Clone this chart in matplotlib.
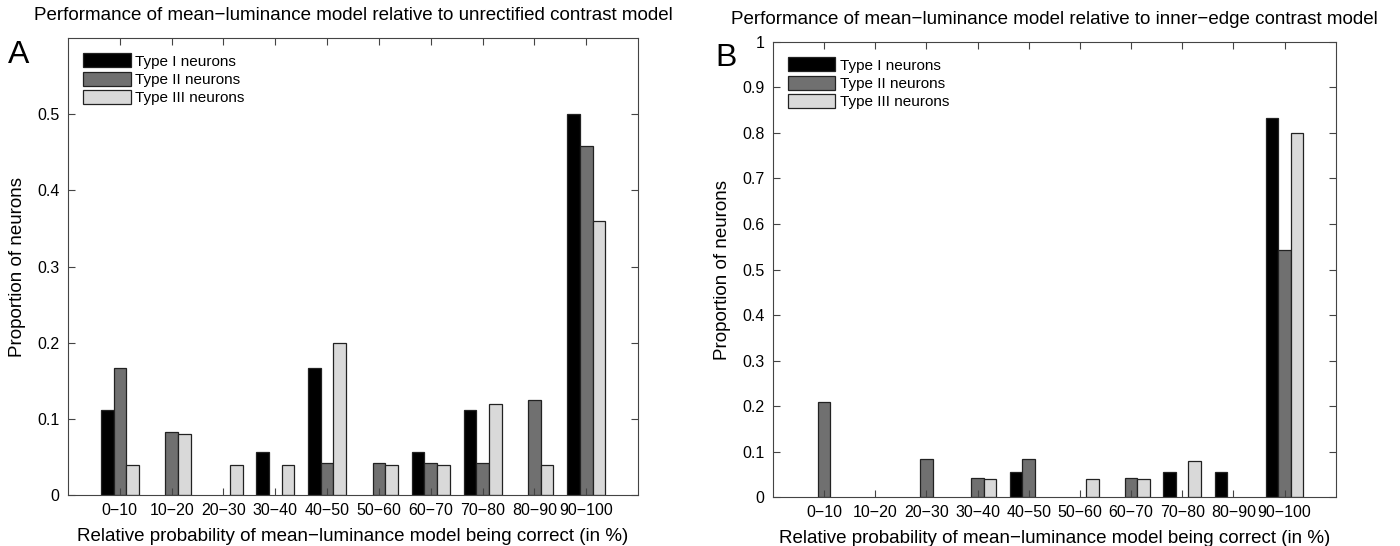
import matplotlib
matplotlib.use("Agg")
import matplotlib.pyplot as plt
import numpy as np

# bins of relative probability (in %)
bins = ["0\u221210", "10\u221220", "20\u221230", "30\u221240", "40\u221250",
        "50\u221260", "60\u221270", "70\u221280", "80\u221290", "90\u2212100"]
series_names = ["Type I neurons", "Type II neurons", "Type III neurons"]

# panel A: relative to unrectified contrast model
a_type1 = [0.111, 0, 0, 0.056, 0.167, 0, 0.056, 0.111, 0, 0.5]
a_type2 = [0.167, 0.083, 0, 0, 0.042, 0.042, 0.042, 0.042, 0.125, 0.458]
a_type3 = [0.04, 0.08, 0.04, 0.04, 0.2, 0.04, 0.04, 0.12, 0.04, 0.36]

# panel B: relative to inner-edge contrast model
b_type1 = [0, 0, 0, 0, 0.056, 0, 0, 0.056, 0.056, 0.833]
b_type2 = [0.208, 0, 0.083, 0.042, 0.083, 0, 0.042, 0, 0, 0.542]
b_type3 = [0, 0, 0, 0.04, 0, 0.04, 0.04, 0.08, 0, 0.8]

colors = ["#000000", "#707070", "#d9d9d9"]

plt.rcParams['font.family'] = ['Liberation Sans', 'DejaVu Sans']
plt.rcParams['axes.edgecolor'] = '#444444'

fig = plt.figure(figsize=(14, 5.46), dpi=100)
axA = fig.add_axes([0.0486, 0.0934, 0.4071, 0.837])
axB = fig.add_axes([0.552, 0.0897, 0.4021, 0.8334])

x = np.arange(1, len(bins) + 1)
w = 0.245


def draw_panel(ax, data, ymax, yticks, title):
    for i, vals in enumerate(data):
        # no outline for empty bins
        lw = [0.9 if v > 0 else 0 for v in vals]
        ax.bar(x + (i - 1) * w, vals, width=w, color=colors[i],
               edgecolor='#222222', linewidth=lw, label=series_names[i])
    ax.set_xlim(0, 11)
    ax.set_ylim(0, ymax)
    ax.set_xticks(x)
    ax.set_xticklabels(bins, fontsize=11.5)
    ax.set_yticks(yticks)
    ax.set_yticklabels(["%g" % t for t in yticks], fontsize=11.5)
    ax.tick_params(direction='in', top=True, right=True, length=5,
                   width=0.8, color='#444444', pad=6)
    ax.set_xlabel("Relative probability of mean\u2212luminance model being correct (in %)",
                  fontsize=13.5, labelpad=7)
    ax.set_ylabel("Proportion of neurons", fontsize=13.5, labelpad=8)
    ax.set_title(title, fontsize=13.5, pad=13,
                 family=['Liberation Sans Narrow', 'Liberation Sans', 'DejaVu Sans'])
    leg = ax.legend(loc='upper left', frameon=False, fontsize=11,
                    handlelength=3.1, handleheight=1.05, labelspacing=0.2,
                    handletextpad=0.3, borderaxespad=0.6)
    for h in leg.legend_handles:
        h.set_linewidth(0.9)
        h.set_edgecolor('#222222')


draw_panel(axA, [a_type1, a_type2, a_type3], 0.6,
           [0, 0.1, 0.2, 0.3, 0.4, 0.5],
           "Performance of mean\u2212luminance model relative to unrectified contrast model")
draw_panel(axB, [b_type1, b_type2, b_type3], 1.0,
           [0, 0.1, 0.2, 0.3, 0.4, 0.5, 0.6, 0.7, 0.8, 0.9, 1],
           "Performance of mean\u2212luminance model relative to inner\u2212edge contrast model")

fig.text(0.006, 0.885, "A", fontsize=23)
fig.text(0.511, 0.88, "B", fontsize=23)

fig.savefig("out.png", dpi=100)
